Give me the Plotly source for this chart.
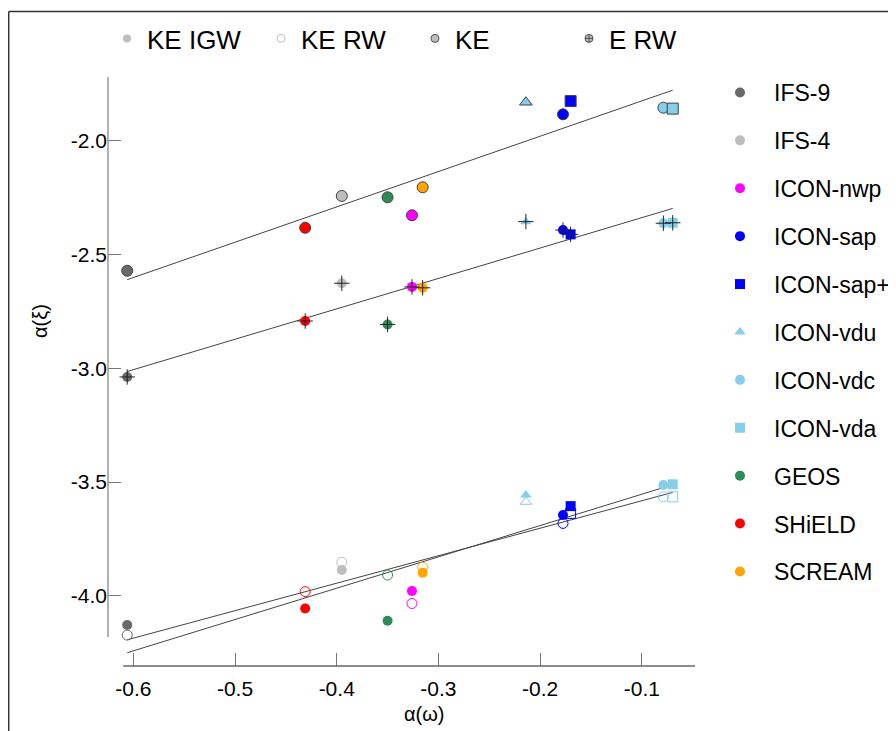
import numpy as np
import plotly.graph_objects as go

# ---------------- data ----------------
models = ["IFS-9", "IFS-4", "ICON-nwp", "ICON-sap", "ICON-sap+", "ICON-vdu",
          "ICON-vdc", "ICON-vda", "GEOS", "SHiELD", "SCREAM"]
model_colors = ["#696969", "#BEBEBE", "#FF00FF", "#0000FF", "#0000FF", "#87CEEB",
                "#87CEEB", "#87CEEB", "#2E8B57", "#FF0000", "#FFA500"]
model_symbols = ["circle", "circle", "circle", "circle", "square", "triangle-up",
                 "circle", "square", "circle", "circle", "circle"]

alpha_omega = [-0.606, -0.395, -0.326, -0.1775, -0.170, -0.214, -0.0788, -0.0696, -0.350, -0.431, -0.3155]
ke = [-2.571, -2.242, -2.327, -1.883, -1.825, -1.830, -1.854, -1.858, -2.248, -2.382, -2.204]
e_rw = [-3.038, -2.626, -2.642, -2.392, -2.411, -2.355, -2.362, -2.360, -2.807, -2.792, -2.646]
ke_igw = [-4.129, -3.887, -3.979, -3.645, -3.606, -3.557, -3.513, -3.510, -4.110, -4.056, -3.899]
ke_rw = [-4.173, -3.853, -4.034, -3.682, -3.638, -3.587, -3.565, -3.565, -3.909, -3.982, -3.875]

variable_names = ["KE IGW", "KE RW", "KE", "E RW"]

x_tickvals = [-0.6, -0.5, -0.4, -0.3, -0.2, -0.1]
x_ticktext = ["-0.6", "-0.5", "-0.4", "-0.3", "-0.2", "-0.1"]
y_tickvals = [-4.0, -3.5, -3.0, -2.5, -2.0]
y_ticktext = ["-4.0", "-3.5", "-3.0", "-2.5", "-2.0"]

# ---------------- figure ----------------
FONT = "Liberation Sans, Arial, sans-serif"
fig = go.Figure()

# regression lines
xs = np.array(alpha_omega)
for yv in [ke, e_rw, ke_igw, ke_rw]:
    b, a = np.polyfit(xs, np.array(yv), 1)
    xl = np.array([xs.min(), xs.max()])
    fig.add_trace(go.Scatter(x=xl, y=a + b * xl, mode="lines",
                             line=dict(color="#444444", width=1),
                             showlegend=False, hoverinfo="skip"))

open_symbols = [s + "-open" for s in model_symbols]

# KE RW (open)
fig.add_trace(go.Scatter(x=alpha_omega, y=ke_rw, mode="markers", showlegend=False,
                         marker=dict(symbol=open_symbols, size=10, color=model_colors,
                                     line=dict(color=model_colors, width=1))))
# KE IGW (filled)
fig.add_trace(go.Scatter(x=alpha_omega, y=ke_igw, mode="markers", showlegend=False,
                         marker=dict(symbol=model_symbols, size=10, color=model_colors,
                                     line=dict(width=0))))
# KE (filled with outline)
fig.add_trace(go.Scatter(x=alpha_omega, y=ke, mode="markers", showlegend=False,
                         marker=dict(symbol=model_symbols, size=11, color=model_colors,
                                     line=dict(color="#404040", width=1))))
# E RW (filled + cross)
fig.add_trace(go.Scatter(x=alpha_omega, y=e_rw, mode="markers", showlegend=False,
                         marker=dict(symbol=model_symbols, size=10, color=model_colors,
                                     line=dict(width=0))))
fig.add_trace(go.Scatter(x=alpha_omega, y=e_rw, mode="markers", showlegend=False,
                         marker=dict(symbol="cross-thin", size=11, color="#222222",
                                     line=dict(color="#222222", width=1))))

# model legend (right)
for m, c, s in zip(models, model_colors, model_symbols):
    fig.add_trace(go.Scatter(x=[None], y=[None], mode="markers", name=m,
                             legendgroup=m, legend="legend",
                             marker=dict(symbol=s, size=10, color=c, line=dict(width=0))))

# variable legend (top)
var_markers = [
    dict(symbol="circle", size=8, color="#BEBEBE", line=dict(width=0)),
    dict(symbol="circle-open", size=8, color="#BEBEBE", line=dict(color="#BEBEBE", width=1)),
    dict(symbol="circle", size=8, color="#BEBEBE", line=dict(color="#505050", width=1)),
    dict(symbol="circle-cross", size=8, color="#BEBEBE", line=dict(color="#505050", width=1)),
]
for vn, mk in zip(variable_names, var_markers):
    fig.add_trace(go.Scatter(x=[None], y=[None], mode="markers", name=vn,
                             legend="legend2", marker=mk))

# page body adds an 8px offset; positions below are in screenshot pixels
OFF = 8
W, H = 896 - OFF, 731 - OFF
PL, PR, PT, PB = 108, 695, 77, 666          # plot area in screenshot pixels
L, R, T, B = PL - OFF, W - (PR - OFF), PT - OFF, H - (PB - OFF)
pw, ph = PR - PL, PB - PT


def px2paper_x(sx):
    return (sx - PL) / pw


def px2paper_y(sy):
    return (PB - sy) / ph


x_lo, x_hi = -0.6249, -0.0477
y_lo, y_hi = -4.309, -1.719

fig.update_layout(
    width=W, height=H,
    margin=dict(l=L, r=R, t=T, b=B, autoexpand=False),
    paper_bgcolor="white", plot_bgcolor="white",
    font=dict(family=FONT, size=21, color="black"),
    xaxis=dict(range=[x_lo, x_hi], tickvals=x_tickvals, ticktext=x_ticktext,
               ticks="inside", ticklen=13, tickcolor="#777777", tickwidth=1,
               showgrid=False, zeroline=False, showline=False,
               tickfont=dict(size=21), ticklabelstandoff=8),
    yaxis=dict(range=[y_lo, y_hi], tickvals=y_tickvals, ticktext=y_ticktext,
               ticks="inside", ticklen=13, tickcolor="#777777", tickwidth=1,
               showgrid=False, zeroline=False, showline=False,
               tickfont=dict(size=21), ticklabelstandoff=0),
    legend=dict(x=px2paper_x(706), y=px2paper_y(71), xanchor="left", yanchor="top",
                font=dict(size=23), tracegroupgap=15, bgcolor="rgba(0,0,0,0)",
                itemwidth=58, maxheight=700, itemclick=False),
    legend2=dict(x=px2paper_x(107), y=px2paper_y(15), xanchor="left", yanchor="top",
                 orientation="h", font=dict(size=26), entrywidth=109,
                 entrywidthmode="pixels", bgcolor="rgba(0,0,0,0)"),
    showlegend=True,
    shapes=[
        # axis lines
        dict(type="line", xref="paper", yref="y", x0=0, x1=0, y0=-4.182, y1=y_hi,
             line=dict(color="#888888", width=1.3)),
        dict(type="line", xref="x", yref="paper", x0=-0.610, x1=x_hi, y0=0, y1=0,
             line=dict(color="#666666", width=1.3)),
        # frame (top and left)
        dict(type="line", xref="paper", yref="paper", x0=px2paper_x(8.7), x1=px2paper_x(900),
             y0=px2paper_y(11.5), y1=px2paper_y(11.5), line=dict(color="#333333", width=1.5)),
        dict(type="line", xref="paper", yref="paper", x0=px2paper_x(8.7), x1=px2paper_x(8.7),
             y0=px2paper_y(11.5), y1=px2paper_y(740), line=dict(color="#333333", width=1.5)),
    ],
    annotations=[
        dict(text="α(ω)", xref="paper", yref="paper", x=px2paper_x(424), y=px2paper_y(714),
             showarrow=False, font=dict(size=20), xanchor="center", yanchor="middle"),
        dict(text="α(ξ)", xref="paper", yref="paper", x=px2paper_x(40), y=px2paper_y(321),
             showarrow=False, font=dict(size=20), textangle=-90,
             xanchor="center", yanchor="middle"),
    ],
)

fig.write_html("out.html")
